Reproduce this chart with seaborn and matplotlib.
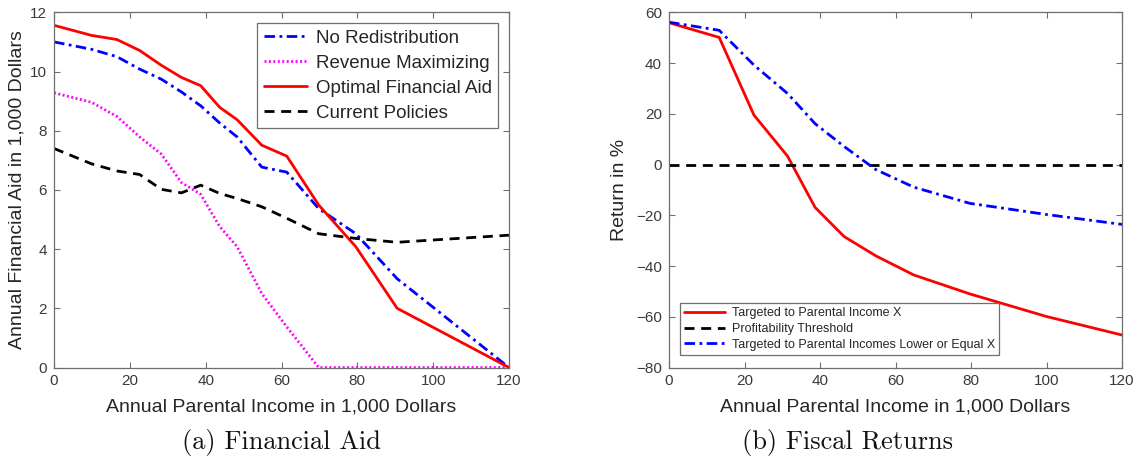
import matplotlib
matplotlib.use("Agg")
import matplotlib.pyplot as plt
import seaborn as sns
import pandas as pd

# ---------------- data: panel (a) ----------------
income_a = [0, 9.9, 16.6, 22.6, 28.3, 33.6, 38.7, 43.7, 48.3, 54.8, 61.4, 69.8, 79.6, 90.5, 120]
no_redistribution = [11.0, 10.75, 10.5, 10.08, 9.74, 9.31, 8.84, 8.26, 7.79, 6.77, 6.6, 5.37, 4.52, 3.0, 0.0]
revenue_max = [9.28, 8.96, 8.48, 7.79, 7.21, 6.25, 5.85, 4.76, 4.08, 2.5, 1.37, 0.0, 0.0, 0.0, 0.0]
optimal_aid = [11.56, 11.22, 11.08, 10.71, 10.21, 9.8, 9.52, 8.79, 8.37, 7.51, 7.14, 5.49, 4.08, 2.0, 0.0]
current_policies = [7.4, 6.88, 6.64, 6.52, 6.02, 5.9, 6.16, 5.88, 5.71, 5.43, 5.04, 4.52, 4.36, 4.23, 4.47]
labels_a = ["No Redistribution", "Revenue Maximizing", "Optimal Financial Aid", "Current Policies"]

# ---------------- data: panel (b) ----------------
income_b = [0, 13.3, 22.5, 31.4, 38.7, 46.4, 54.8, 64.8, 79.7, 100, 120]
targeted_x = [55.9, 50.1, 19.5, 3.3, -16.9, -28.4, -36.0, -43.5, -51.0, -59.9, -67.2]
targeted_le_x = [56.1, 52.9, 39.2, 28.0, 16.1, 7.1, -2.0, -8.9, -15.3, -19.7, -23.6]
threshold_x = [0, 120]
threshold = [0, 0]
labels_b = ["Targeted to Parental Income X", "Profitability Threshold",
            "Targeted to Parental Incomes Lower or Equal X"]

xlabel = "Annual Parental Income in 1,000 Dollars"
ylabel_a = "Annual Financial Aid in 1,000 Dollars"
ylabel_b = "Return in %"
caption_a = "(a) Financial Aid"
caption_b = "(b) Fiscal Returns"

# ---------------- styling ----------------
sns.set_theme(style="white")
plt.rcParams["font.family"] = ["Liberation Sans", "DejaVu Sans"]

W, H = 1139, 463
fig = plt.figure(figsize=(W / 100, H / 100), dpi=100)

def px_axes(x0, x1, y0, y1):
    return fig.add_axes([x0 / W, 1 - y1 / H, (x1 - x0) / W, (y1 - y0) / H])

ax1 = px_axes(54, 509, 12.3, 367.5)
ax2 = px_axes(669, 1122, 12.3, 367.5)

RED, BLUE, MAG, BLK = "#ff0000", "#0000ff", "#ff00ff", "#000000"
LW = 2.0
dashdot = (0, (3.8, 1.6, 1.0, 1.6))
dashed = (0, (3.6, 2.4))
dotted = (0, (0.7, 0.9))

def line(ax, x, y, color, ls, label):
    df = pd.DataFrame({"x": x, "y": y})
    sns.lineplot(data=df, x="x", y="y", ax=ax, color=color, linestyle=ls,
                 linewidth=LW, estimator=None, sort=False, label=label, legend=False)
    return ax.lines[-1]

# panel (a)
h1 = line(ax1, income_a, no_redistribution, BLUE, dashdot, labels_a[0])
h2 = line(ax1, income_a, revenue_max, MAG, dotted, labels_a[1])
h3 = line(ax1, income_a, optimal_aid, RED, "-", labels_a[2])
h4 = line(ax1, income_a, current_policies, BLK, dashed, labels_a[3])

# panel (b)
g1 = line(ax2, income_b, targeted_x, RED, "-", labels_b[0])
g2 = line(ax2, threshold_x, threshold, BLK, dashed, labels_b[1])
g3 = line(ax2, income_b, targeted_le_x, BLUE, dashdot, labels_b[2])

SPINE = "#6e6e6e"
TICKC = "#3a3a3a"
LABC = "#262626"

for ax in (ax1, ax2):
    ax.set_xlim(0, 120)
    ax.set_xticks(range(0, 121, 20))
    ax.tick_params(direction="in", top=True, right=True, length=4, width=0.8,
                   color=SPINE, labelsize=11, labelcolor=TICKC, pad=5,
                   bottom=True, left=True)
    for s in ax.spines.values():
        s.set_color(SPINE)
        s.set_linewidth(0.9)
        s.set_visible(True)
    ax.set_xlabel(xlabel, fontsize=14, color=LABC, labelpad=7)
    ax.grid(False)

ax1.set_ylim(0, 12)
ax1.set_yticks(range(0, 13, 2))
ax1.set_ylabel(ylabel_a, fontsize=14, color=LABC, labelpad=3)
ax2.set_ylim(-80, 60)
ax2.set_yticks(range(-80, 61, 20))
ax2.set_ylabel(ylabel_b, fontsize=14, color=LABC, labelpad=6)

leg1 = ax1.legend([h1, h2, h3, h4], labels_a, loc="upper right",
                  bbox_to_anchor=(0.976, 0.970), borderaxespad=0, fontsize=13.5,
                  frameon=True, fancybox=False, edgecolor=SPINE, framealpha=1,
                  handlelength=2.3, labelspacing=0.42, handletextpad=0.45,
                  borderpad=0.35)
leg1.get_frame().set_linewidth(0.9)

leg2 = ax2.legend([g1, g2, g3], labels_b, loc="lower left",
                  bbox_to_anchor=(0.024, 0.035), borderaxespad=0, fontsize=9,
                  frameon=True, fancybox=False, edgecolor=SPINE, framealpha=1,
                  handlelength=3.3, labelspacing=0.3, handletextpad=0.5,
                  borderpad=0.35)
leg2.get_frame().set_linewidth(0.9)

fig.text(281 / W, 1 - 443 / H, caption_a, family="cmr10", fontsize=19,
         ha="center", va="center", color="#111111")
fig.text(848 / W, 1 - 443 / H, caption_b, family="cmr10", fontsize=19,
         ha="center", va="center", color="#111111")

fig.savefig("out.png", dpi=100)
